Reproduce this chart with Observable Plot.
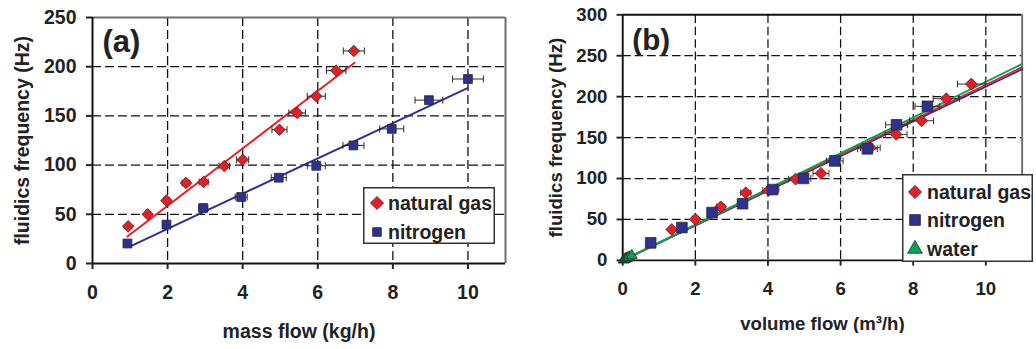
<!DOCTYPE html>
<html><head><meta charset="utf-8">
<script src="https://cdn.jsdelivr.net/npm/d3@7"></script>
<script src="https://cdn.jsdelivr.net/npm/@observablehq/plot@0.6"></script>
<style>
html,body{margin:0;padding:0;background:#fff;overflow:hidden;width:1036px;height:349px;}
#wrap{position:relative;width:1036px;height:349px;overflow:hidden;}
.panel{position:absolute;top:0;}
.legend{position:absolute;}
</style></head><body><div id="wrap"></div>
<script>
// ---------- data ----------
// Panel (a): mass flow (kg/h) vs fluidics frequency (Hz)
const gasMassA   = [0.95, 1.47, 1.97, 2.49, 2.96, 3.51, 4.00, 4.98, 5.45, 5.96, 6.49, 6.96];
const gasFreqA   = [37.8, 50, 64, 81.8, 82.8, 99, 105.4, 136, 153, 170, 196, 216];
const gasErrA    = [0.04, 0.06, 0.08, 0.10, 0.12, 0.14, 0.16, 0.20, 0.22, 0.24, 0.26, 0.28];
const nitroMassA = [0.93, 1.97, 2.95, 3.96, 4.96, 5.96, 6.95, 7.97, 8.96, 10.0];
const nitroFreqA = [20.3, 39.5, 56.4, 67.6, 87.2, 99.3, 120, 136.8, 166, 187.5];
const nitroErrA  = [0.04, 0.08, 0.12, 0.16, 0.20, 0.24, 0.28, 0.32, 0.37, 0.41];
const fitGasA    = [[0.93, 27.4], [6.98, 204]];
const fitNitroA  = [[1.02, 17.6], [10.0, 178.4]];

// Panel (b): volume flow (m³/h) vs fluidics frequency (Hz)
const gasVolB    = [1.35, 2.00, 2.70, 3.39, 4.02, 4.76, 5.46, 6.82, 7.53, 8.23, 8.91, 9.60];
const gasFreqB   = [37.8, 50.3, 65.4, 82.6, 85.7, 99.3, 106.3, 137.5, 153.9, 170.6, 197.5, 215.4];
const gasErrB    = [0.05, 0.08, 0.11, 0.14, 0.16, 0.19, 0.22, 0.27, 0.30, 0.33, 0.36, 0.38];
const nitroVolB  = [0.77, 1.63, 2.46, 3.30, 4.13, 4.98, 5.84, 6.74, 7.54, 8.39];
const nitroFreqB = [21.4, 40.1, 58.4, 69.3, 86.5, 100.1, 121.5, 136.3, 165.6, 188.2];
const nitroErrB  = [0.03, 0.07, 0.10, 0.13, 0.17, 0.20, 0.23, 0.27, 0.30, 0.34];
const waterVolB  = [0.02, 0.05, 0.08, 0.11, 0.14, 0.18, 0.25];
const waterFreqB = [0.5, 1.2, 1.9, 2.6, 3.3, 4.2, 6.0];
const fitGasB    = [[0, 0], [11, 236]];
const fitNitroB  = [[0, 0], [11, 233.5]];
const fitWaterB  = [[0, 0], [11, 240]];

const xTicks = [0, 2, 4, 6, 8, 10];
const yTicksA = [0, 50, 100, 150, 200, 250];
const yTicksB = [0, 50, 100, 150, 200, 250, 300];
const seriesNames = ["natural gas", "nitrogen", "water"];

// ---------- styles ----------
const RED = "#ed1c24", BLUE = "#2e3192", GREEN = "#00a651", OUT = "#2a2a2a", INK = "#222";
const FONT = "'Liberation Sans', Arial, sans-serif";
const FS = 19.5;
const capSymbol = {draw(ctx, size) { const h = Math.sqrt(size / Math.PI); ctx.moveTo(0, -h); ctx.lineTo(0, h); }};
const zip = (xs, ys, es) => xs.map((x, i) => ({x, y: ys[i], e: es ? es[i] : 0}));
const pts = (arr) => arr.map(([x, y]) => ({x, y}));

function errorBars(d) {
  return [
    Plot.link(d, {x1: p => p.x - p.e, x2: p => p.x + p.e, y1: "y", y2: "y", stroke: OUT, strokeWidth: 1}),
    Plot.dot(d, {x: p => p.x - p.e, y: "y", symbol: capSymbol, r: 3.5, stroke: OUT, strokeWidth: 1, fill: "none"}),
    Plot.dot(d, {x: p => p.x + p.e, y: "y", symbol: capSymbol, r: 3.5, stroke: OUT, strokeWidth: 1, fill: "none"})
  ];
}
const grid = {stroke: "#111", strokeOpacity: 1, strokeWidth: 1.3, strokeDasharray: "9,4"};
const axisOpts = {tickSize: 6, strokeWidth: 2, label: null, tickFormat: d => d, fontSize: FS, fontWeight: "bold", fill: INK};
const txt = {fontSize: FS, fontWeight: "bold", fill: INK, textAnchor: "middle", lineAnchor: "middle"};

// ---------- panel (a) ----------
const gA = zip(gasMassA, gasFreqA, gasErrA), nA = zip(nitroMassA, nitroFreqA, nitroErrA);
const plotA = Plot.plot({
  width: 520, height: 349,
  marginLeft: 92, marginRight: 15, marginTop: 17, marginBottom: 86,
  x: {domain: [0, 11]}, y: {domain: [0, 250]},
  style: {fontFamily: FONT, fontWeight: "bold", fontSize: FS + "px", color: INK, background: "transparent"},
  marks: [
    Plot.gridX([2, 4, 6, 8, 10], grid),
    Plot.gridY([50, 100, 150, 200], grid),
    Plot.ruleY([250], {stroke: "#6e6e6e", strokeWidth: 2}),
    Plot.ruleX([11], {stroke: "#6e6e6e", strokeWidth: 2}),
    Plot.ruleY([0], {stroke: "#111", strokeWidth: 2}),
    Plot.ruleX([0], {stroke: "#111", strokeWidth: 2}),
    Plot.axisX(xTicks, {...axisOpts, tickPadding: 16}),
    Plot.axisY(yTicksA, {...axisOpts, tickPadding: 10}),
    Plot.text(["mass flow (kg/h)"], {...txt, frameAnchor: "bottom", dy: 68}),
    Plot.text(["fluidics frequency (Hz)"], {...txt, frameAnchor: "left", dx: -70, rotate: -90}),
    Plot.text(["(a)"], {...txt, textAnchor: "start", frameAnchor: "top-left", dx: 10, dy: 25, fontSize: 31}),
    Plot.line(pts(fitGasA), {x: "x", y: "y", stroke: RED, strokeWidth: 2}),
    Plot.line(pts(fitNitroA), {x: "x", y: "y", stroke: BLUE, strokeWidth: 2}),
    ...errorBars(gA),
    ...errorBars(nA),
    Plot.dot(gA, {x: "x", y: "y", symbol: "diamond2", r: 5.2, fill: RED, stroke: OUT, strokeWidth: 0.8}),
    Plot.dot(nA, {x: "x", y: "y", symbol: "square", r: 5.0, fill: BLUE, stroke: OUT, strokeWidth: 0.8})
  ]
});

// ---------- panel (b) ----------
const gB = zip(gasVolB, gasFreqB, gasErrB), nB = zip(nitroVolB, nitroFreqB, nitroErrB), wB = zip(waterVolB, waterFreqB);
const plotB = Plot.plot({
  width: 540, height: 349,
  marginLeft: 107, marginRight: 15, marginTop: 15, marginBottom: 77,
  x: {domain: [0, 11]}, y: {domain: [0, 300]},
  style: {fontFamily: FONT, fontWeight: "bold", fontSize: FS + "px", color: INK, background: "transparent"},
  marks: [
    Plot.gridX([2, 4, 6, 8, 10], grid),
    Plot.gridY([50, 100, 150, 200, 250], grid),
    Plot.ruleY([300], {stroke: "#111", strokeWidth: 2}),
    Plot.ruleX([11], {stroke: "#6e6e6e", strokeWidth: 2}),
    Plot.ruleY([0], {stroke: "#111", strokeWidth: 2}),
    Plot.ruleX([0], {stroke: "#111", strokeWidth: 2}),
    Plot.axisX(xTicks, {...axisOpts, tickPadding: 16}),
    Plot.axisY(yTicksB, {...axisOpts, tickPadding: 10}),
    Plot.text(["volume flow (m³/h)"], {...txt, frameAnchor: "bottom", dy: 67}),
    Plot.text(["fluidics frequency (Hz)"], {...txt, frameAnchor: "left", dx: -70, rotate: -90}),
    Plot.text(["(b)"], {...txt, textAnchor: "start", frameAnchor: "top-left", dx: 10, dy: 27, fontSize: 31}),
    Plot.line(pts(fitNitroB), {x: "x", y: "y", stroke: BLUE, strokeWidth: 2}),
    Plot.line(pts(fitGasB), {x: "x", y: "y", stroke: RED, strokeWidth: 2}),
    Plot.line(pts(fitWaterB), {x: "x", y: "y", stroke: GREEN, strokeWidth: 2}),
    ...errorBars(gB),
    ...errorBars(nB),
    Plot.dot(gB, {x: "x", y: "y", symbol: "diamond2", r: 5.6, fill: RED, stroke: OUT, strokeWidth: 0.8}),
    Plot.dot(nB, {x: "x", y: "y", symbol: "square", r: 6.3, fill: BLUE, stroke: OUT, strokeWidth: 0.8}),
    Plot.dot(wB, {x: "x", y: "y", symbol: "triangle", r: 4.2, fill: GREEN, stroke: OUT, strokeWidth: 0.8})
  ]
});

const wrap = document.getElementById("wrap");
function place(node, left) { const d = document.createElement("div"); d.className = "panel"; d.style.left = left + "px"; d.appendChild(node); wrap.appendChild(d); }
place(plotA, 0);
place(plotB, 520);

// ---------- legends ----------
function legend(left, top, w, h, items) {
  const svg = d3.create("svg").attr("class", "legend").attr("width", w).attr("height", h)
    .style("left", left + "px").style("top", top + "px");
  svg.append("rect").attr("x", 0.75).attr("y", 0.75).attr("width", w - 1.5).attr("height", h - 1.5)
    .attr("fill", "#fff").attr("stroke", "#333").attr("stroke-width", 1.5);
  for (const it of items) {
    svg.append("path").attr("transform", `translate(${it.sx},${it.y})`)
      .attr("d", d3.symbol(it.symbol, it.size)())
      .attr("fill", it.color).attr("stroke", OUT).attr("stroke-width", 0.8);
    svg.append("text").attr("x", it.tx).attr("y", it.y).attr("dy", "0.35em")
      .attr("font-family", FONT).attr("font-weight", "bold").attr("font-size", FS).attr("fill", INK)
      .text(it.label);
  }
  wrap.appendChild(svg.node());
}
legend(363, 187, 132, 57, [
  {label: seriesNames[0], symbol: d3.symbolDiamond2, size: 110, color: RED, sx: 14, tx: 25, y: 16},
  {label: seriesNames[1], symbol: d3.symbolSquare, size: 75, color: BLUE, sx: 14, tx: 25, y: 45}
]);
legend(902, 174, 131, 88, [
  {label: seriesNames[0], symbol: d3.symbolDiamond2, size: 110, color: RED, sx: 13, tx: 25, y: 18},
  {label: seriesNames[1], symbol: d3.symbolSquare, size: 115, color: BLUE, sx: 13, tx: 25, y: 46},
  {label: seriesNames[2], symbol: d3.symbolTriangle, size: 95, color: GREEN, sx: 13, tx: 25, y: 75}
]);
</script></body></html>
